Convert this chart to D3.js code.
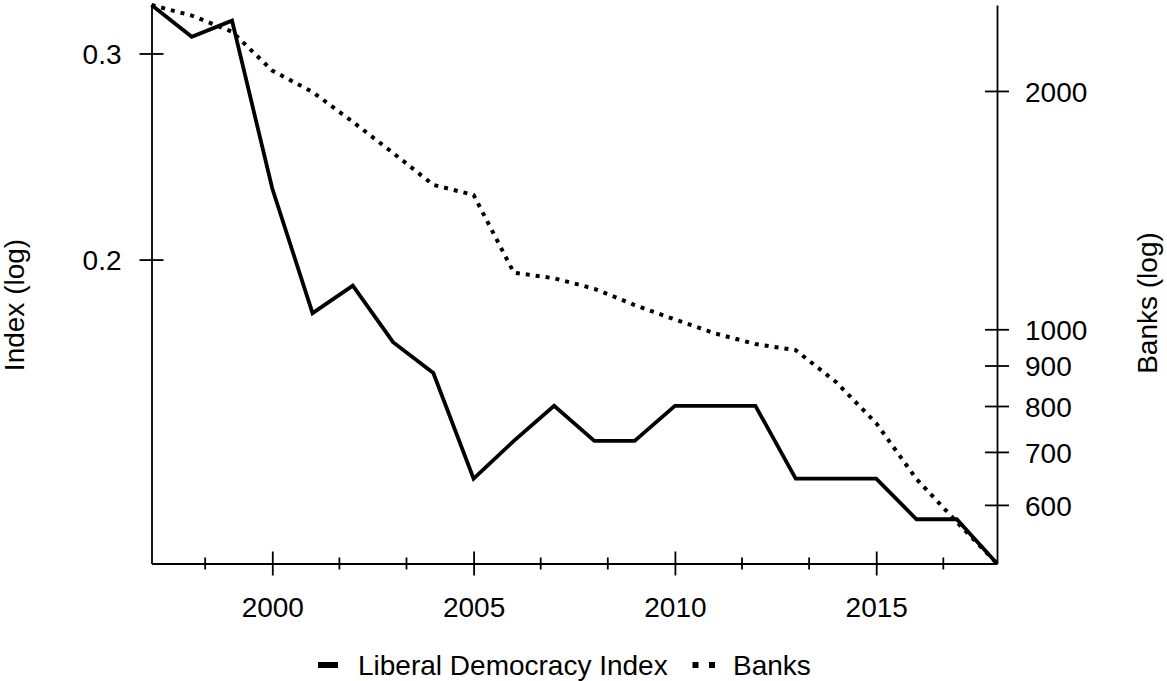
<!DOCTYPE html>
<html>
<head>
<meta charset="utf-8">
<script src="https://cdn.jsdelivr.net/npm/d3@7"></script>
<style>
  html, body { margin: 0; padding: 0; background: #fff; }
  svg { display: block; }
  text { font-family: "Liberation Sans", Arial, sans-serif; fill: #000; }
</style>
</head>
<body>
<svg id="chart" width="1167" height="681"></svg>
<script>
// Yearly observations
const years = [1997, 1998, 1999, 2000, 2001, 2002, 2003, 2004, 2005, 2006, 2007,
               2008, 2009, 2010, 2011, 2012, 2013, 2014, 2015, 2016, 2017, 2018];
const liberalDemocracyIndex = [0.33, 0.31, 0.32, 0.23, 0.18, 0.19, 0.17, 0.16, 0.13, 0.14, 0.15,
                               0.14, 0.14, 0.15, 0.15, 0.15, 0.13, 0.13, 0.13, 0.12, 0.12, 0.11];
const banks = [2568, 2490, 2376, 2122, 1994, 1828, 1670, 1522, 1478, 1179, 1160,
               1125, 1073, 1029, 988, 958, 941, 858, 761, 647, 571, 506];

// Axis ticks
const xMajorTicks = [2000, 2005, 2010, 2015];
const xMinorTicks = [1998 + 1/3, 2001 + 2/3, 2003 + 1/3, 2006 + 2/3,
                     2008 + 1/3, 2011 + 2/3, 2013 + 1/3, 2016 + 2/3];
const indexTicks = [0.2, 0.3];
const bankTicks = [600, 700, 800, 900, 1000, 2000];

const legendLabels = ["Liberal Democracy Index", "Banks"];

const svg = d3.select("#chart");
const FONT = 28;
const AXIS_W = 1.8;

const plot = { left: 151.5, right: 997, top: 5, bottom: 563.5 };

const x = d3.scaleLinear().domain([1997, 2018]).range([plot.left, plot.right]);
const yIndex = d3.scaleLog().domain(d3.extent(liberalDemocracyIndex)).range([plot.bottom, plot.top]);
const yBanks = d3.scaleLog().domain(d3.extent(banks)).range([plot.bottom, plot.top]);

// Bottom axis: major ticks labelled, minor ticks shorter; ticks straddle the axis line
const xAxis = svg.append("g").attr("transform", `translate(0,${plot.bottom})`)
  .call(d3.axisBottom(x).tickValues(xMajorTicks).tickFormat(d3.format("d"))
    .tickSizeInner(12).tickSizeOuter(0).tickPadding(0));
xAxis.selectAll(".tick line").attr("y1", -12).attr("y2", 12);
xAxis.selectAll(".tick text").attr("y", 53.5).attr("dy", null)
  .style("font-size", FONT + "px");
xAxis.append("g").selectAll("line").data(xMinorTicks).join("line")
  .attr("x1", d => x(d)).attr("x2", d => x(d))
  .attr("y1", -6).attr("y2", 6).attr("stroke", "#000");

// Left axis (index, log)
const yAxisL = svg.append("g").attr("transform", `translate(${plot.left},0)`)
  .call(d3.axisLeft(yIndex).tickValues(indexTicks).tickFormat(d3.format(".1f"))
    .tickSizeInner(12).tickSizeOuter(0).tickPadding(0));
yAxisL.selectAll(".tick line").attr("x1", -12).attr("x2", 12);
yAxisL.selectAll(".tick text").attr("x", -30).attr("dy", "0.36em")
  .style("font-size", FONT + "px");

// Right axis (banks, log)
const yAxisR = svg.append("g").attr("transform", `translate(${plot.right},0)`)
  .call(d3.axisRight(yBanks).tickValues(bankTicks).tickFormat(d3.format("d"))
    .tickSizeInner(12).tickSizeOuter(0).tickPadding(0));
yAxisR.selectAll(".tick line").attr("x1", -12).attr("x2", 12);
yAxisR.selectAll(".tick text").attr("x", 28).attr("dy", "0.36em")
  .style("font-size", FONT + "px");

svg.selectAll(".domain, .tick line").attr("stroke", "#000").attr("stroke-width", AXIS_W);
svg.selectAll(".tick text").attr("fill", "#000")
  .style("font-family", '"Liberation Sans", Arial, sans-serif');
xAxis.selectAll("line").attr("stroke-width", AXIS_W);

// Axis titles
svg.append("text")
  .attr("transform", "translate(23.5,305) rotate(-90)")
  .attr("text-anchor", "middle").style("font-size", FONT + "px")
  .text("Index (log)");
svg.append("text")
  .attr("transform", "translate(1157,303) rotate(-90)")
  .attr("text-anchor", "middle").style("font-size", FONT + "px")
  .text("Banks (log)");

// Series
const lineIndex = d3.line().x((d, i) => x(years[i])).y(d => yIndex(d));
const lineBanks = d3.line().x((d, i) => x(years[i])).y(d => yBanks(d));

svg.append("path").datum(banks)
  .attr("d", lineBanks).attr("fill", "none").attr("stroke", "#000")
  .attr("stroke-width", 4).attr("stroke-dasharray", "4,6")
  .attr("stroke-linecap", "butt");

svg.append("path").datum(liberalDemocracyIndex)
  .attr("d", lineIndex).attr("fill", "none").attr("stroke", "#000")
  .attr("stroke-width", 3.8).attr("stroke-linejoin", "miter")
  .attr("stroke-linecap", "butt");

// Legend
const legend = svg.append("g");
legend.append("line").attr("x1", 318).attr("x2", 338).attr("y1", 665).attr("y2", 665)
  .attr("stroke", "#000").attr("stroke-width", 6);
legend.append("text").attr("x", 358).attr("y", 675).style("font-size", FONT + "px")
  .text(legendLabels[0]);
legend.append("line").attr("x1", 692.5).attr("x2", 715).attr("y1", 665).attr("y2", 665)
  .attr("stroke", "#000").attr("stroke-width", 6).attr("stroke-dasharray", "6,10.5");
legend.append("text").attr("x", 733).attr("y", 675).style("font-size", FONT + "px")
  .text(legendLabels[1]);
</script>
</body>
</html>
